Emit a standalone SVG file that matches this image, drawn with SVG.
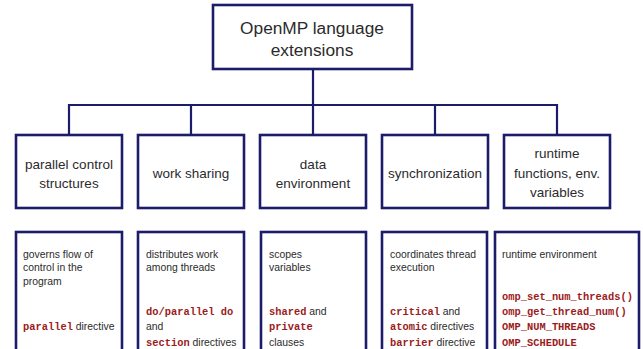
<svg xmlns="http://www.w3.org/2000/svg" width="643" height="349" viewBox="0 0 643 349">
<style>
.box{fill:#fff;stroke:#1c1c6b;stroke-width:2.6}
.con{fill:none;stroke:#1c1c6b;stroke-width:2.2}
.t{font-family:"Liberation Sans",Arial,sans-serif;fill:#2b2b2b}
.h{font-size:17.3px;text-anchor:middle}
.m{font-size:13.5px;text-anchor:middle}
.s{font-size:10.4px}
.c{font-family:"Liberation Mono","Courier New",monospace;font-weight:bold;font-size:10.4px;fill:#9b1c1c}
</style>
<rect width="643" height="349" fill="#fff"/>
<g id="connectors">
<path class="con" d="M313 69V105M69 105H557M69 104V135M191 104V135M313 104V135M435 104V135M557 104V135"/>
</g>
<g id="root">
<rect class="box" x="213" y="5" width="199" height="64"/>
<text class="t h" x="312" y="34">OpenMP language</text>
<text class="t h" x="312" y="56">extensions</text>
</g>
<g id="n1">
<rect class="box" x="16" y="135" width="106" height="73"/>
<text class="t m" x="69" y="168.5">parallel control</text>
<text class="t m" x="69" y="187.5">structures</text>
</g>
<g id="n2">
<rect class="box" x="138" y="135" width="106" height="73"/>
<text class="t m" x="191" y="177.5">work sharing</text>
</g>
<g id="n3">
<rect class="box" x="260" y="135" width="106" height="73"/>
<text class="t m" x="313" y="168.5">data</text>
<text class="t m" x="313" y="187.5">environment</text>
</g>
<g id="n4">
<rect class="box" x="382" y="135" width="106" height="73"/>
<text class="t m" x="435" y="177.5">synchronization</text>
</g>
<g id="n5">
<rect class="box" x="504" y="135" width="106" height="73"/>
<text class="t m" x="557" y="158">runtime</text>
<text class="t m" x="557" y="178">functions, env.</text>
<text class="t m" x="557" y="197">variables</text>
</g>
<g id="d1">
<rect class="box" x="16" y="232" width="106" height="122"/>
<text class="t s" x="23" y="257.5">governs flow of</text>
<text class="t s" x="23" y="271">control in the</text>
<text class="t s" x="23" y="284.5">program</text>
<text x="23" y="330"><tspan class="c">parallel</tspan><tspan class="t s"> directive</tspan></text>
</g>
<g id="d2">
<rect class="box" x="138" y="232" width="106" height="122"/>
<text class="t s" x="146" y="257.5">distributes work</text>
<text class="t s" x="146" y="271">among threads</text>
<text class="c" x="146" y="315">do/parallel do</text>
<text class="t s" x="146" y="330">and</text>
<text x="146" y="345.5"><tspan class="c">section</tspan><tspan class="t s"> directives</tspan></text>
</g>
<g id="d3">
<rect class="box" x="261" y="232" width="105" height="122"/>
<text class="t s" x="269" y="257.5">scopes</text>
<text class="t s" x="269" y="271">variables</text>
<text x="269" y="315"><tspan class="c">shared</tspan><tspan class="t s"> and</tspan></text>
<text class="c" x="269" y="330">private</text>
<text class="t s" x="269" y="345.5">clauses</text>
</g>
<g id="d4">
<rect class="box" x="382" y="232" width="105" height="122"/>
<text class="t s" x="390" y="257.5">coordinates thread</text>
<text class="t s" x="390" y="271">execution</text>
<text x="390" y="315"><tspan class="c">critical</tspan><tspan class="t s"> and</tspan></text>
<text x="390" y="330"><tspan class="c">atomic</tspan><tspan class="t s"> directives</tspan></text>
<text x="390" y="345.5"><tspan class="c">barrier</tspan><tspan class="t s"> directive</tspan></text>
</g>
<g id="d5">
<rect class="box" x="495" y="232" width="144" height="122"/>
<text class="t s" x="502" y="257.5">runtime environment</text>
<text class="c" x="502" y="300">omp_set_num_threads()</text>
<text class="c" x="502" y="315">omp_get_thread_num()</text>
<text class="c" x="502" y="330">OMP_NUM_THREADS</text>
<text class="c" x="502" y="345.5">OMP_SCHEDULE</text>
</g>
</svg>
